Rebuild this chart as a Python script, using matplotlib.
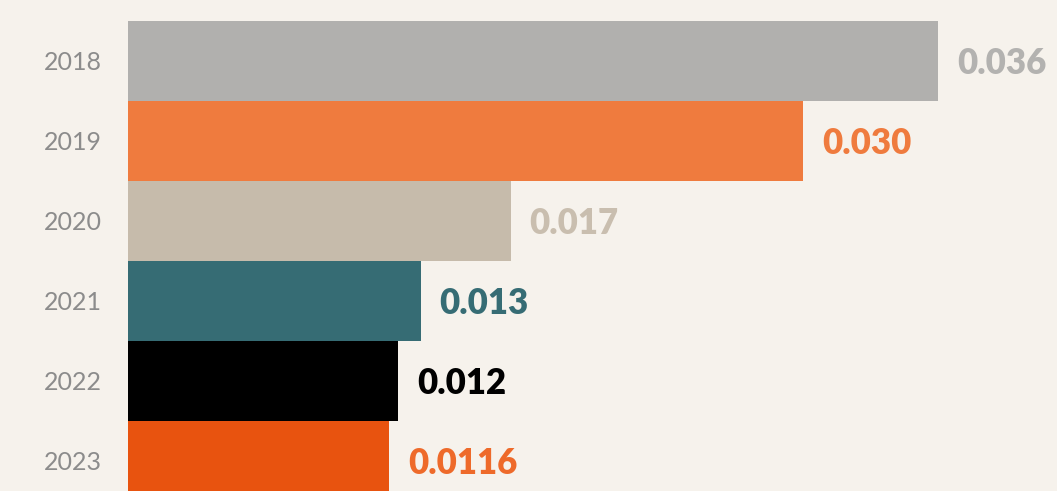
import matplotlib
matplotlib.use("Agg")
import matplotlib.pyplot as plt
from matplotlib.transforms import ScaledTranslation

years = ["2018", "2019", "2020", "2021", "2022", "2023"]
values = [0.036, 0.030, 0.017, 0.013, 0.012, 0.0116]
value_labels = ["0.036", "0.030", "0.017", "0.013", "0.012", "0.0116"]
bar_colors = ["#b1b0ae", "#ef7b3e", "#c6bbab", "#366c74", "#000000", "#e8530f"]
label_colors = ["#b3b2b0", "#ef7b3e", "#c9beaf", "#366c74", "#000000", "#ee6a2a"]

BG = "#f6f2ec"
W, H = 1057, 491
fig = plt.figure(figsize=(W / 100, H / 100), dpi=100, facecolor=BG)
ax = fig.add_axes([128 / W, 0, 900 / W, 1])
ax.set_facecolor(BG)

pos = list(range(len(years)))
ax.barh(pos, values, height=1.0, color=bar_colors, linewidth=0)

ax.set_xlim(0, 0.04)
ax.set_ylim(5.375, -0.7625)

# value labels just past the end of each bar
for y, v, lab, c in zip(pos, values, value_labels, label_colors):
    ax.annotate(lab, xy=(v, y), xytext=(19, -2), textcoords="offset pixels",
                ha="left", va="center", fontsize=25, fontweight="heavy",
                family="Lato", color=c, annotation_clip=False)

ax.set_yticks(pos)
ax.set_yticklabels(years, family="Lato", fontsize=18, color="#8c8c8c")
# nudge year labels up slightly
shift = ScaledTranslation(0, 2 / 100, fig.dpi_scale_trans)
for t in ax.get_yticklabels():
    t.set_transform(t.get_transform() + shift)
ax.tick_params(axis="y", length=0, pad=19)
ax.tick_params(axis="x", bottom=False, labelbottom=False)
for s in ax.spines.values():
    s.set_visible(False)

fig.savefig("out.png", dpi=100, facecolor=BG)
